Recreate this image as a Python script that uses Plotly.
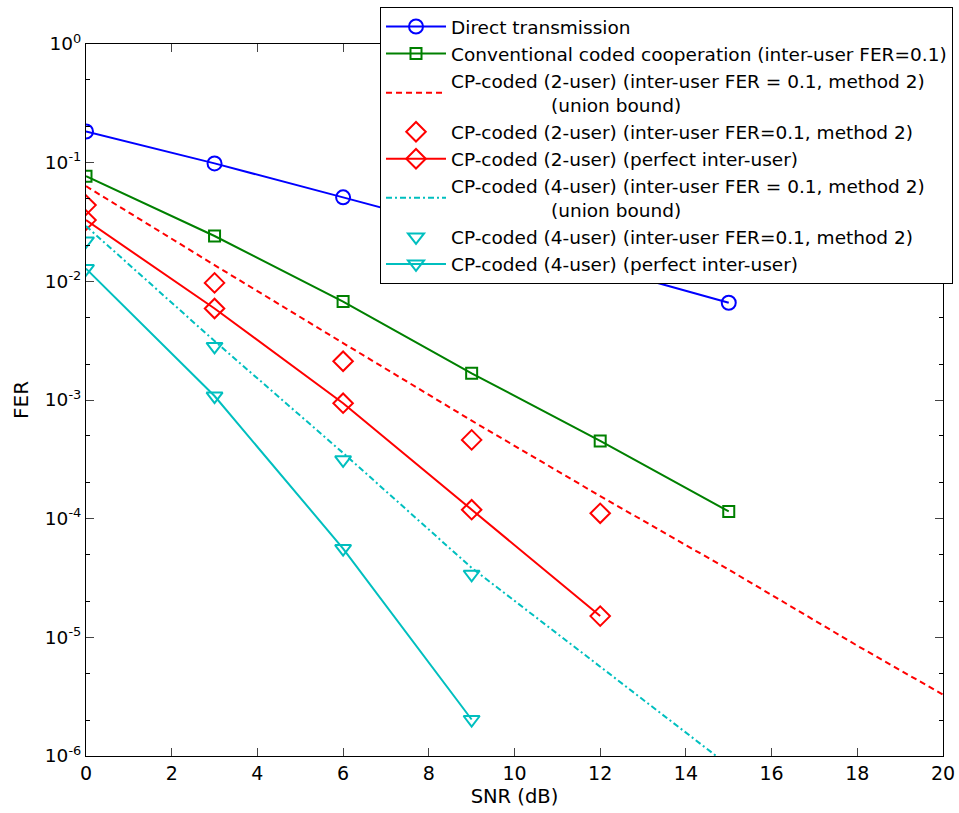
import plotly.graph_objects as go

snr = [0, 3, 6, 9, 12, 15]
snr_ub = [0, 3, 6, 9, 12, 15, 18, 20]
snr_ub4 = [0, 3, 6, 9, 12, 15]

fer_direct = [0.183, 0.0986, 0.051, 0.0262, 0.0132, 0.0066]
fer_conv = [0.0768, 0.0241, 0.00675, 0.00168, 0.000452, 0.000115]
fer_cp2_ub = [0.0634, 0.0137, 0.00302, 0.00067, 0.000155, 3.72e-5, 8.5e-6, 3.29e-6]
fer_cp2_m2 = [0.0439, 0.0097, 0.00212, 0.000461, 0.000111]
fer_cp2_perf = [0.0328, 0.0059, 0.00094, 0.000119, 1.51e-5]
fer_cp4_ub = [0.0292, 0.00314, 0.000358, 3.85e-5, 5.66e-6, 8.3e-7]
fer_cp4_m2 = [0.0219, 0.00283, 0.000313, 3.4e-5]
fer_cp4_perf = [0.0128, 0.00108, 5.6e-5, 2.03e-6]

pad = "\u00a0" * 17
names = [
    "Direct transmission",
    "Conventional coded cooperation (inter-user FER=0.1)",
    "CP-coded (2-user) (inter-user FER = 0.1, method 2)<br>" + pad + "(union bound)",
    "CP-coded (2-user) (inter-user FER=0.1, method 2)",
    "CP-coded (2-user) (perfect inter-user)",
    "CP-coded (4-user) (inter-user FER = 0.1, method 2)<br>" + pad + "(union bound)",
    "CP-coded (4-user) (inter-user FER=0.1, method 2)",
    "CP-coded (4-user) (perfect inter-user)",
]

BLUE = "#0000FF"
GREEN = "#008000"
RED = "#FF0000"
CYAN = "#00BFBF"


def mk(symbol, size, color):
    return dict(symbol=symbol, size=size, color=color, line=dict(width=2, color=color))


fig = go.Figure()
fig.add_trace(go.Scatter(x=snr, y=fer_direct, name=names[0], mode="lines+markers",
                         line=dict(color=BLUE, width=2), marker=mk("circle-open", 14, BLUE)))
fig.add_trace(go.Scatter(x=snr, y=fer_conv, name=names[1], mode="lines+markers",
                         line=dict(color=GREEN, width=2), marker=mk("square-open", 11, GREEN)))
fig.add_trace(go.Scatter(x=snr_ub, y=fer_cp2_ub, name=names[2], mode="lines",
                         line=dict(color=RED, width=2, dash="6px,4px")))
fig.add_trace(go.Scatter(x=snr[:5], y=fer_cp2_m2, name=names[3], mode="markers",
                         marker=mk("diamond-open", 15, RED)))
fig.add_trace(go.Scatter(x=snr[:5], y=fer_cp2_perf, name=names[4], mode="lines+markers",
                         line=dict(color=RED, width=2), marker=mk("diamond-open", 15, RED)))
fig.add_trace(go.Scatter(x=snr_ub4, y=fer_cp4_ub, name=names[5], mode="lines",
                         line=dict(color=CYAN, width=2, dash="6px,3px,2px,3px")))
fig.add_trace(go.Scatter(x=snr[:4], y=fer_cp4_m2, name=names[6], mode="markers",
                         marker=mk("triangle-down-open", 14, CYAN)))
fig.add_trace(go.Scatter(x=snr[:4], y=fer_cp4_perf, name=names[7], mode="lines+markers",
                         line=dict(color=CYAN, width=2), marker=mk("triangle-down-open", 14, CYAN)))

yvals = [1, 0.1, 0.01, 0.001, 1e-4, 1e-5, 1e-6]
ytext = ["10<sup>0</sup>", "10<sup>-1</sup>", "10<sup>-2</sup>", "10<sup>-3</sup>",
         "10<sup>-4</sup>", "10<sup>-5</sup>", "10<sup>-6</sup>"]

font = "DejaVu Sans, Arial, sans-serif"
fig.update_layout(
    width=959, height=813,
    margin=dict(l=86, r=16, t=44, b=57, autoexpand=False),
    paper_bgcolor="white", plot_bgcolor="white",
    font=dict(family=font, size=18, color="black"),
    showlegend=True,
    legend=dict(xref="container", yref="container", x=380 / 959, y=1 - 7 / 813,
                xanchor="left", yanchor="top",
                bgcolor="white", bordercolor="black", borderwidth=1,
                font=dict(family=font, size=18.5, color="black"),
                itemwidth=60, tracegroupgap=0, valign="middle"),
    xaxis=dict(range=[0, 20], dtick=2, ticks="inside", ticklen=8, tickwidth=1,
               showline=True, linecolor="black", linewidth=1, mirror="ticks",
               showgrid=False, zeroline=False, automargin=True,
               title=dict(text="SNR (dB)", font=dict(size=19.5), standoff=6),
               tickfont=dict(size=19)),
    yaxis=dict(type="log", range=[-6, 0], tickvals=yvals, ticktext=ytext,
               ticks="inside", ticklen=8, tickwidth=1,
               showline=True, linecolor="black", linewidth=1, mirror="ticks",
               showgrid=False, zeroline=False, automargin=True,
               minor=dict(ticks="inside", ticklen=4, tickcolor="black", showgrid=False),
               tickfont=dict(size=18.5)),
    annotations=[dict(text="FER", xref="paper", yref="paper", x=(21 - 86) / 857, y=0.5,
                      xanchor="center", yanchor="middle", textangle=-90, showarrow=False,
                      font=dict(family=font, size=20, color="black"))],
)

fig.write_html("out.html", post_script="document.body.style.margin='0px';",
               config={"displayModeBar": False})
